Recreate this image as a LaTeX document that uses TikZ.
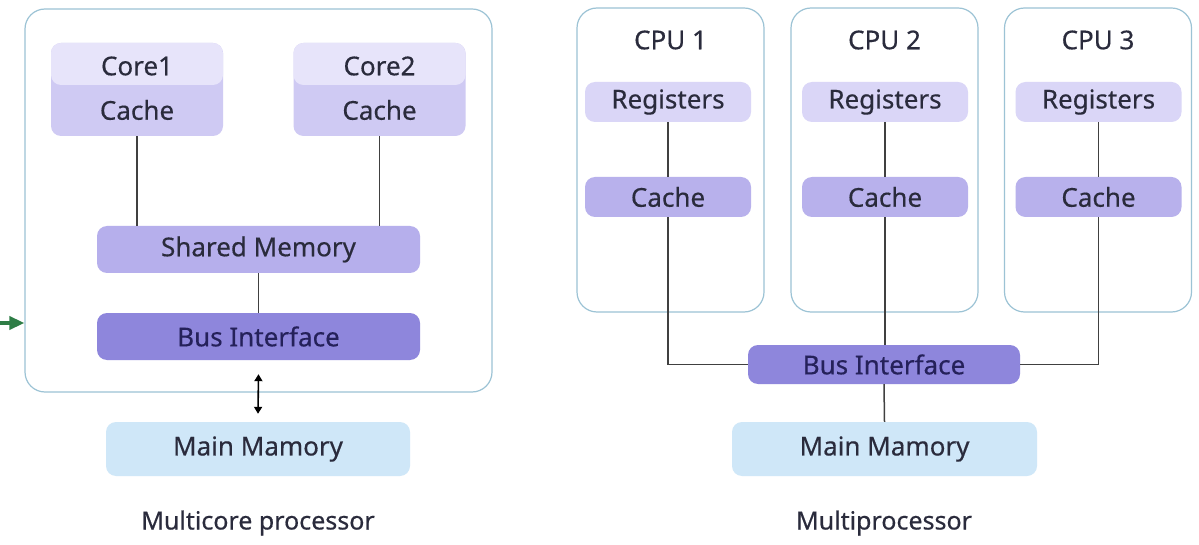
\documentclass[tikz,border=0pt]{standalone}
\usepackage{fontspec}
\setmainfont{Noto Sans}[FakeBold=0.4]
\usetikzlibrary{arrows.meta}
\definecolor{frame}{HTML}{9CC3D5}
\definecolor{coretop}{HTML}{E7E4FA}
\definecolor{corelow}{HTML}{CFCAF3}
\definecolor{shmem}{HTML}{B6AFEC}
\definecolor{busc}{HTML}{8E86DC}
\definecolor{regc}{HTML}{DAD6F7}
\definecolor{cachec}{HTML}{B8B1EC}
\definecolor{memc}{HTML}{CFE7F8}
\definecolor{ink}{HTML}{2A2B3C}
\definecolor{busink}{HTML}{25215A}
\definecolor{wire}{HTML}{404040}
\definecolor{pointer}{HTML}{2E7D46}
\tikzset{
  x=1pt, y=-1pt,
  lbl/.style={font=\fontsize{26}{30}\selectfont, text=ink, inner sep=0pt},
  caption/.style={font=\fontsize{25}{29}\selectfont, text=ink, inner sep=0pt},
  outerbox/.style={draw=frame, line width=1.2pt, rounded corners=20pt, inner sep=0pt},
  blk/.style={rounded corners=10pt, inner sep=0pt, font=\fontsize{26}{30}\selectfont, text=ink},
  wireline/.style={draw=wire, line width=1.5pt},
}
\begin{document}
\begin{tikzpicture}
\useasboundingbox[fill=white] (0,0) rectangle (1199,545);

% ---------- multicore processor ----------
\node[outerbox, minimum width=467pt, minimum height=383pt] (chip) at (258.5,200.5) {};

\node[rounded corners=10pt, inner sep=0pt, fill=corelow, minimum width=172pt, minimum height=93pt,
      path picture={\fill[coretop] (path picture bounding box.north west) rectangle ([yshift=-42pt]path picture bounding box.north east);}]
      (k1) at (137,89.5) {};
\node[rounded corners=10pt, inner sep=0pt, fill=corelow, minimum width=172pt, minimum height=93pt,
      path picture={\fill[coretop] (path picture bounding box.north west) rectangle ([yshift=-42pt]path picture bounding box.north east);}]
      (k2) at (379.5,89.5) {};
\node[lbl] (core1) at (137,66) {Core1};
\node[lbl] (kc1) at (137,110) {Cache};
\node[lbl] (core2) at (379.5,66) {Core2};
\node[lbl] (kc2) at (379.5,110) {Cache};

\node[blk, fill=shmem, minimum width=323pt, minimum height=47pt] (shm) at (258.5,249.5) {Shared Memory};
\node[blk, fill=busc, text=busink, minimum width=323pt, minimum height=47pt] (busl) at (258.5,336.5) {Bus Interface};
\node[blk, fill=memc, minimum width=304pt, minimum height=54pt] (meml) at (258,449) {Main Mamory};

\draw[wireline] (k1.south) -- (k1.south |- shm.north);
\draw[wireline] (k2.south) -- (k2.south |- shm.north);
\draw[wireline] (shm.south) -- (busl.north);
\draw[line width=1.6pt, {Triangle[length=7pt,width=8pt]}-{Triangle[length=7pt,width=8pt]}]
  ([yshift=-14pt]busl.south) -- ([yshift=8pt]meml.north);

\coordinate (gs) at (0,323);
\draw[pointer, line width=3.5pt, -{Triangle[length=15pt,width=13pt]}] (gs) -- (chip.west |- gs);

\node[caption] (capl) at (258,523) {Multicore processor};

% ---------- multiprocessor ----------
\foreach \n/\x/\bx in {1/668/670.5, 2/885/884.5, 3/1098.5/1098} {
  \node[outerbox, minimum width=187pt, minimum height=304pt] (cpu\n) at (\bx,160) {};
  \node[lbl] (name\n) at (\bx,40) {CPU \n};
  \node[blk, fill=regc, minimum width=166pt, minimum height=40pt] (reg\n) at (\x,102) {Registers};
  \node[blk, fill=cachec, minimum width=166pt, minimum height=40pt] (cc\n) at (\x,197) {Cache};
  \draw[wireline] (reg\n) -- (cc\n);
}

\node[blk, fill=busc, text=busink, minimum width=272pt, minimum height=39pt] (busr) at (884,364.5) {Bus Interface};
\node[blk, fill=memc, minimum width=305pt, minimum height=54pt] (memr) at (884.5,449) {Main Mamory};

\draw[wireline] (cc1.south) |- (busr.west);
\draw[wireline] (cc2.south) -- (cc2.south |- busr.north);
\draw[wireline] (cc3.south) |- (busr.east);
\draw[wireline] (busr.south) -- (memr.north);

\node[caption] (capr) at (884,523) {Multiprocessor};
\end{tikzpicture}
\end{document}
